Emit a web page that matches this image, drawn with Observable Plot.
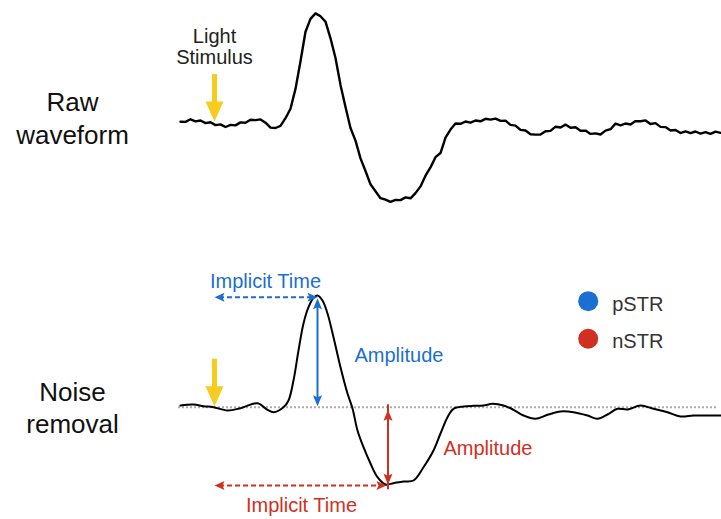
<!DOCTYPE html>
<html><head><meta charset="utf-8">
<script src="https://cdn.jsdelivr.net/npm/d3@7"></script>
<script src="https://cdn.jsdelivr.net/npm/@observablehq/plot@0.6"></script>
<style>body{margin:0;background:#fff} #chart svg{display:block}</style>
</head><body><div id="chart"></div>
<script>
// Panels
const panels = ["raw", "filtered"];
const panelLabels = ["Raw\nwaveform", "Noise\nremoval"];
const panelLabelAmp = [-21.3, -26];

// Raw waveform (time, amplitude)
const rawTime = [0,5,10,15,20,25,30,35,40,45,50,55,60,65,70,75,80,85,90,95,100,105,110,115,120,125,130,135,140,145,150,155,160,165,170,175,180,185,190,195,200,205,210,215,220,225,230,235,240,245,250,255,260,265,270,275,280,285,290,295,300,305,310,315,320,325,330,335,340,345,350,355,360,365,370,375,380,385,390,395,400,405,410,415,420,425,430,435,440,445,450,455,460,465,470,475,480,485,490,495,500,505,510,515,520,525,530,535,540];
const rawAmp = [0.8,0.6,3.2,1.1,2.0,-0.6,0.2,-2.6,-1.9,-4.5,-2.4,-2.9,0.1,-0.3,2.8,2.4,3.1,-0.2,-5.1,-5.5,-3.4,4.3,13.8,33.6,61.3,90.8,103.6,109.1,106.2,100.8,84.2,64.5,37.6,15.5,-5.5,-18.1,-35.9,-48.5,-61.8,-68.7,-75.7,-77.2,-79.3,-77.4,-77.6,-74.9,-75.8,-70.6,-63.9,-53.2,-44.9,-34.7,-30.5,-15.2,-7.1,-1.0,-1.3,1.0,-0.2,2.0,1.2,3.7,2.9,3.9,1.6,1.8,-2.4,-3.1,-7.4,-8.0,-11.8,-12.1,-12.0,-8.7,-8.4,-4.2,-5.0,-2.1,-5.3,-4.8,-8.2,-8.1,-11.4,-10.9,-12.0,-8.1,-6.7,-1.1,-2.9,-1.0,-2.0,1.4,1.2,2.1,-1.5,-0.6,-4.4,-4.6,-8.0,-7.5,-10.6,-8.8,-10.6,-9.0,-11.1,-9.7,-11.4,-9.2,-10.4];

// Noise-removed waveform (time, amplitude)
const filtTime = [0,13,23,33,47,60,77,87,93,103,108,113,118,123,128,133,137,142,147,153,160,167,172,177,183,190,197,205,213,223,233,243,253,260,267,273,283,293,303,312,323,333,343,355,367,380,393,407,417,427,437,447,460,473,487,500,513,527,540];
const filtAmp = [1.7,2.7,1,0,-3.3,-1,4,-2.6,-5,0,6.7,26.7,56.7,83.7,100,109.4,111.7,106.7,93.7,70,40,13.7,-1.3,-23.3,-40,-56.3,-70,-77.3,-76,-74.3,-73.3,-60,-43.3,-26.3,-10,-1.6,0.7,1.4,1.7,3.4,1.7,-2.6,-8.3,-11.6,-7.6,-4.3,-5,-8.3,-11.6,-7.3,-1.6,-2.3,1.7,-1.6,-5,-9.3,-8.3,-8.3,-8.3];

// Light stimulus
const stimulusTime = 34;
const stimulusLabel = "Light\nStimulus";

// Components pSTR (blue) / nSTR (red)
const components = ["pSTR", "nSTR"];
const componentColors = ["#1b6fd0", "#d0301f"];
const componentTime = [137, 207.5];       // time of peak / trough
const componentAmp = [109, -77.5];         // amplitude of peak / trough
const componentBase = [1, -2.5];
const implicitLevel = [110, -78.3];
const implicitEnd = [137, 206];
const legendTime = 407.7;
const legendAmp = [106, 68.4];

// Annotation texts
const annoText = ["Implicit Time", "Amplitude", "Amplitude", "Implicit Time"];
const annoTime = [85, 174, 263, 121];
const annoAmp = [118.7, 45, -48.3, -105];
const annoAnchor = ["middle", "start", "start", "middle"];
const annoColor = [0, 0, 1, 1];

const yellow = "#f6cc1e";

const rawData = rawTime.map((t, i) => ({panel: "raw", t, amp: rawAmp[i]}));
const filtData = filtTime.map((t, i) => ({panel: "filtered", t, amp: filtAmp[i]}));
const labelData = panels.map((p, i) => ({panel: p, label: panelLabels[i], amp: panelLabelAmp[i]}));
const stimData = panels.map(p => ({panel: p, t: stimulusTime, top: 48, tip: 1}));
const comp = components.map((c, i) => ({panel: "filtered", name: c, color: componentColors[i],
  t: componentTime[i], amp: componentAmp[i], base: componentBase[i], level: implicitLevel[i], end: implicitEnd[i], legAmp: legendAmp[i]}));
const annoData = annoText.map((s, i) => ({panel: "filtered", text: s, t: annoTime[i], amp: annoAmp[i], anchor: annoAnchor[i], color: componentColors[annoColor[i]]}));

function head(w, l, notch, dir) {
  const ang = {down: 0, up: Math.PI, left: Math.PI / 2, right: -Math.PI / 2}[dir];
  const c = Math.cos(ang), s = Math.sin(ang);
  return {draw(ctx) {
    const pts = [[0, 0], [-w / 2, -l], [0, -l + notch], [w / 2, -l]];
    pts.forEach(([x, y], i) => { const X = x * c - y * s, Y = x * s + y * c; i ? ctx.lineTo(X, Y) : ctx.moveTo(X, Y); });
    ctx.closePath();
  }};
}

const chart = Plot.plot({
  width: 721,
  height: 519,
  marginLeft: 180,
  marginRight: 1,
  marginTop: 0,
  marginBottom: 0,
  style: {fontFamily: "'Liberation Sans', Arial, Helvetica, sans-serif", fontSize: "20px", background: "#fff", overflow: "visible"},
  x: {domain: [0, 540], axis: null},
  y: {domain: [-112.3, 122], axis: null},
  fy: {domain: panels, axis: null, paddingInner: 0.177, paddingOuter: 0, round: false},
  marks: [
    Plot.ruleY([{panel: "filtered"}], {fy: "panel", y: () => 0, x1: () => -2, x2: () => 536, stroke: "#aaaaaa", strokeWidth: 2, strokeDasharray: "2,2"}),
    Plot.line(rawData, {fy: "panel", x: "t", y: "amp", stroke: "#000", strokeWidth: 2.4, strokeLinejoin: "round"}),
    Plot.line(filtData, {fy: "panel", x: "t", y: "amp", stroke: "#000", strokeWidth: 2, curve: "catmull-rom"}),
    // stimulus arrows
    Plot.ruleX(stimData, {fy: "panel", x: "t", y1: "top", y2: "tip", stroke: yellow, strokeWidth: 5, insetBottom: 18}),
    Plot.dot(stimData, {fy: "panel", x: "t", y: "tip", symbol: head(18, 20, 0, "down"), fill: yellow, stroke: "none"}),
    Plot.text([{panel: "raw", t: stimulusTime, amp: 58.7, label: stimulusLabel}], {fy: "panel", x: "t", y: "amp", text: "label", lineAnchor: "bottom", lineHeight: 1.05, fontSize: 20, fill: "#222"}),
    // implicit time dashed arrows
    Plot.ruleY(comp, {fy: "panel", y: "level", x1: () => stimulusTime, x2: "end", stroke: "color", strokeWidth: 2, strokeDasharray: "5,3", insetLeft: 5, insetRight: 5}),
    Plot.dot(comp, {fy: "panel", x: () => stimulusTime, y: "level", fill: "color", stroke: "none", symbol: head(9, 10, 2, "left")}),
    Plot.dot(comp, {fy: "panel", x: "end", y: "level", fill: "color", stroke: "none", symbol: head(9, 10, 2, "right")}),
    // amplitude arrows
    Plot.ruleX(comp, {fy: "panel", x: "t", y1: "amp", y2: "base", stroke: "color", strokeWidth: 2, insetTop: 5, insetBottom: 5}),
    Plot.dot(comp.filter(d => d.amp > 0), {fy: "panel", x: "t", y: "amp", fill: "color", stroke: "none", symbol: head(9, 11, 2, "up")}),
    Plot.dot(comp.filter(d => d.amp > 0), {fy: "panel", x: "t", y: "base", fill: "color", stroke: "none", symbol: head(9, 11, 2, "down")}),
    Plot.dot(comp.filter(d => d.amp < 0), {fy: "panel", x: "t", y: "base", fill: "color", stroke: "none", symbol: head(9, 11, 2, "up")}),
    Plot.dot(comp.filter(d => d.amp < 0), {fy: "panel", x: "t", y: "amp", fill: "color", stroke: "none", symbol: head(9, 11, 2, "down")}),
    // annotation texts
    Plot.text(annoData.filter(d => d.anchor === "middle"), {fy: "panel", x: "t", y: "amp", text: "text", textAnchor: "middle", fill: "color", fontSize: 20, lineAnchor: "bottom"}),
    Plot.text(annoData.filter(d => d.anchor === "start"), {fy: "panel", x: "t", y: "amp", text: "text", textAnchor: "start", fill: "color", fontSize: 20, lineAnchor: "bottom"}),
    // legend
    Plot.dot(comp, {fy: "panel", x: () => legendTime, y: "legAmp", r: 10, fill: "color", stroke: "none"}),
    Plot.text(comp, {fy: "panel", x: () => legendTime, y: "legAmp", text: "name", dx: 24, dy: 3, textAnchor: "start", fill: "#333", fontSize: 20}),
    // panel labels
    Plot.text(labelData, {fy: "panel", frameAnchor: "left", y: "amp", text: "label", dx: -108, lineAnchor: "bottom", lineHeight: 1.25, fontSize: 26, fill: "#111", textAnchor: "middle"})
  ]
});
document.getElementById("chart").appendChild(chart);
</script>
</body></html>
